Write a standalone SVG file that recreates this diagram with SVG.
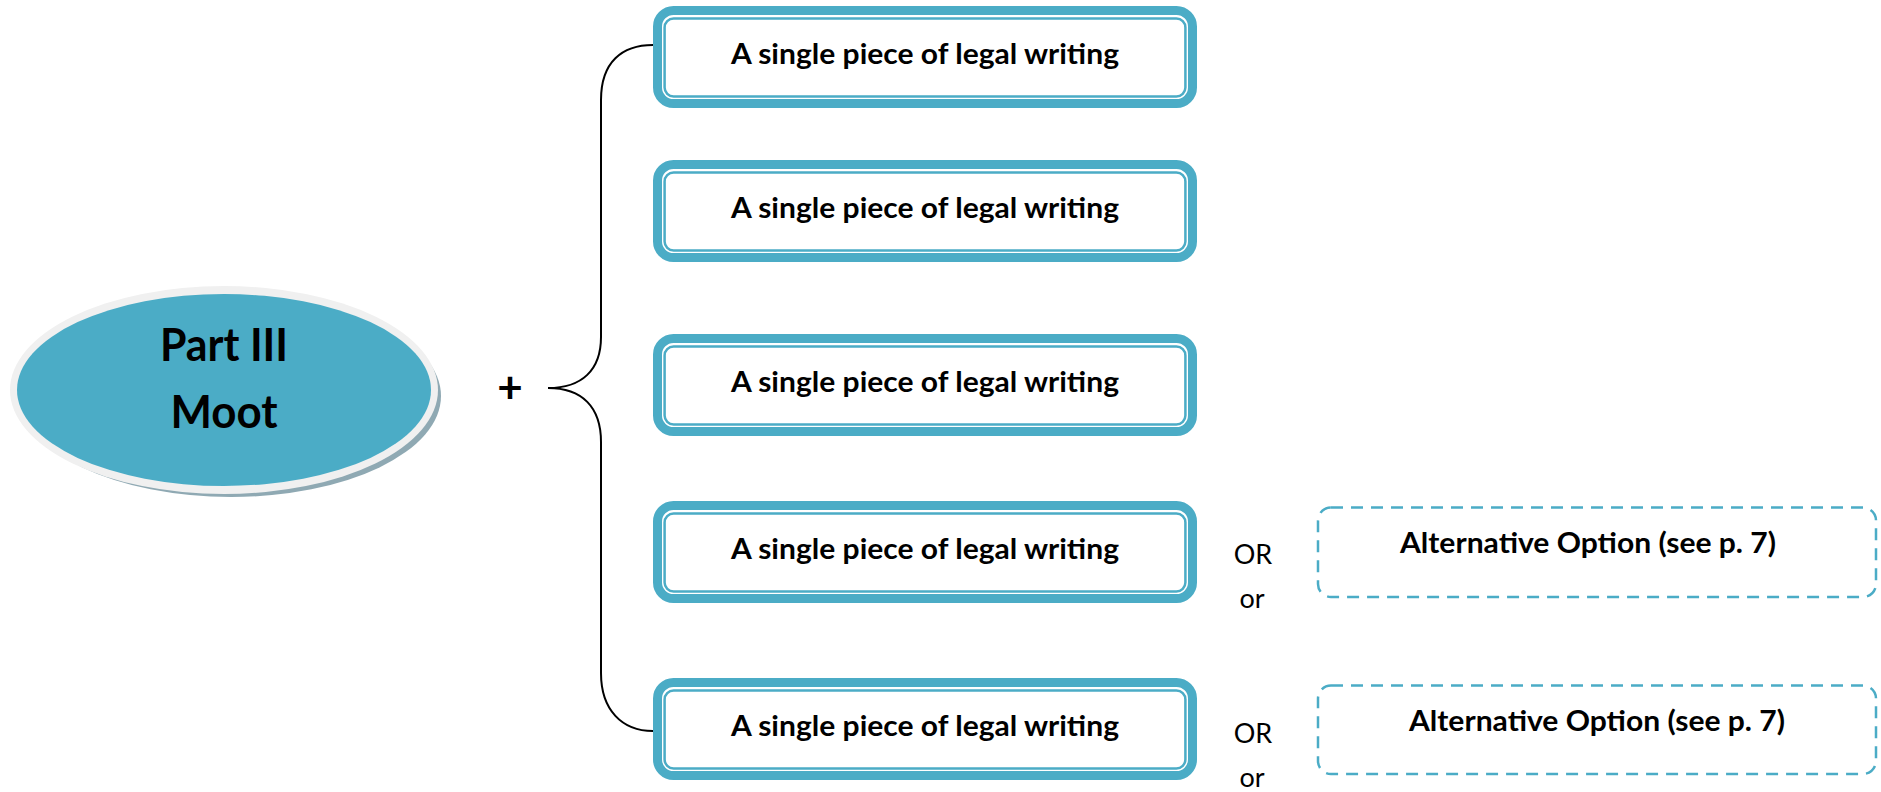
<svg xmlns="http://www.w3.org/2000/svg" width="1881" height="792" viewBox="0 0 1881 792">
<style>
.outer{fill:#ffffff;stroke:#4BACC6;stroke-width:9}
.inner{fill:none;stroke:#4BACC6;stroke-width:2.5}
.alt{fill:none;stroke:#4BACC6;stroke-width:2.5;stroke-dasharray:12 8}
.lbl{font-family:Lato,"Open Sans","Liberation Sans",sans-serif;font-weight:bold;font-size:28px;fill:#000;text-anchor:middle}
.reg{font-family:Lato,"Open Sans","Liberation Sans",sans-serif;font-size:27px;fill:#000;text-anchor:middle}
.big{font-family:Lato,"Open Sans","Liberation Sans",sans-serif;font-weight:bold;font-size:45px;fill:#000;text-anchor:middle}
.plus{font-family:Lato,"Open Sans","Liberation Sans",sans-serif;font-weight:bold;font-size:44px;fill:#000;text-anchor:middle}
.conn{fill:none;stroke:#000;stroke-width:2}
</style>
<rect width="1881" height="792" fill="#ffffff"/>
<g id="root">
  <ellipse cx="231" cy="396" rx="210" ry="101" fill="#8FA9B3"/>
  <ellipse cx="224" cy="390" rx="214" ry="104" fill="#F0F0F0"/>
  <ellipse cx="224" cy="390" rx="207" ry="96" fill="#4BACC6"/>
  <text class="big" x="224" y="361" textLength="128" lengthAdjust="spacingAndGlyphs">Part III</text>
  <text class="big" x="224" y="428" textLength="107" lengthAdjust="spacingAndGlyphs">Moot</text>
</g>
<g id="plus"><text class="plus" x="510" y="403">+</text></g>
<g id="connectors">
  <path class="conn" d="M653,45 C622,45 601,62 601,100 L601,337 C601,370 582,388 548,388 C582,388 601,407 601,442 L601,673 C601,710 622,731 653,731"/>
</g>
<g id="box1">
  <rect class="outer" x="657.5" y="10.5" width="535" height="93" rx="16"/>
  <rect class="inner" x="664.6" y="18.6" width="520.8" height="77.8" rx="9"/>
  <text class="lbl" x="925" y="64" textLength="388" lengthAdjust="spacingAndGlyphs">A single piece of legal writing</text>
</g>
<g id="box2">
  <rect class="outer" x="657.5" y="164.5" width="535" height="93" rx="16"/>
  <rect class="inner" x="664.6" y="172.6" width="520.8" height="77.8" rx="9"/>
  <text class="lbl" x="925" y="218" textLength="388" lengthAdjust="spacingAndGlyphs">A single piece of legal writing</text>
</g>
<g id="box3">
  <rect class="outer" x="657.5" y="338.5" width="535" height="93" rx="16"/>
  <rect class="inner" x="664.6" y="346.6" width="520.8" height="77.8" rx="9"/>
  <text class="lbl" x="925" y="392" textLength="388" lengthAdjust="spacingAndGlyphs">A single piece of legal writing</text>
</g>
<g id="box4">
  <rect class="outer" x="657.5" y="505.5" width="535" height="93" rx="16"/>
  <rect class="inner" x="664.6" y="513.6" width="520.8" height="77.8" rx="9"/>
  <text class="lbl" x="925" y="559" textLength="388" lengthAdjust="spacingAndGlyphs">A single piece of legal writing</text>
</g>
<g id="box5">
  <rect class="outer" x="657.5" y="682.5" width="535" height="93" rx="16"/>
  <rect class="inner" x="664.6" y="690.6" width="520.8" height="77.8" rx="9"/>
  <text class="lbl" x="925" y="736" textLength="388" lengthAdjust="spacingAndGlyphs">A single piece of legal writing</text>
</g>
<g id="or1">
  <text class="reg" x="1253" y="564">OR</text>
  <text class="reg" x="1252" y="608">or</text>
</g>
<g id="or2">
  <text class="reg" x="1253" y="743">OR</text>
  <text class="reg" x="1252" y="787">or</text>
</g>
<g id="alt1">
  <rect class="alt" x="1318" y="507.5" width="558" height="89.5" rx="13"/>
  <text class="lbl" x="1588" y="553" textLength="376" lengthAdjust="spacingAndGlyphs">Alternative Option (see p. 7)</text>
</g>
<g id="alt2">
  <rect class="alt" x="1318" y="685.5" width="558" height="88.5" rx="13"/>
  <text class="lbl" x="1597" y="731" textLength="376" lengthAdjust="spacingAndGlyphs">Alternative Option (see p. 7)</text>
</g>
</svg>
